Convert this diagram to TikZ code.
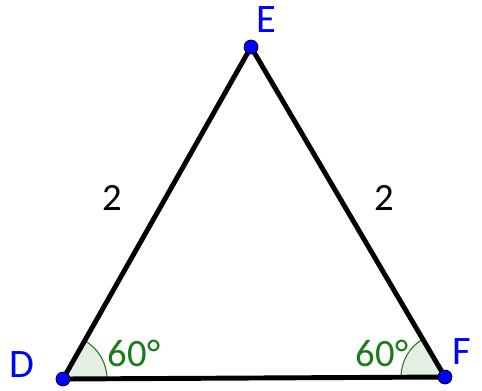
\documentclass[tikz,border=0pt]{standalone}
\usepackage{fontspec}
\setmainfont{Carlito}
\usetikzlibrary{angles,positioning}
\definecolor{ptblue}{HTML}{0000FF}
\definecolor{anggreen}{HTML}{1B7A1B}
\definecolor{angfill}{HTML}{E3EFE3}
\tikzset{
  pt style/.style={circle, draw=black, line width=0.4pt, fill=ptblue, inner sep=0pt, minimum size=0.28cm},
  lbl style/.style={font=\fontsize{23}{23}\selectfont, text=ptblue},
  len style/.style={font=\fontsize{22}{22}\selectfont, text=black},
  ang style/.style={draw=anggreen, fill=angfill, line width=0.6pt, angle radius=0.88cm},
  deg style/.style={font=\fontsize{22}{22}\selectfont, text=anggreen},
  side style/.style={line width=2.8pt, line join=round}
}
\begin{document}
\begin{tikzpicture}[x=0.02cm, y=0.02cm]
\useasboundingbox (0,0) rectangle (482,390);
\coordinate (D) at (63,11);
\coordinate (F) at (445,13);
\coordinate (E) at (251,343);
% angles
\pic[ang style] {angle = F--D--E};
\pic[ang style] {angle = E--F--D};
% sides
\draw[side style] (D) -- (E) -- (F) -- cycle;
% points
\node[pt style] (d) at (D) {};
\node[pt style] (e) at (E) {};
\node[pt style] (f) at (F) {};
% labels
\node[lbl style] (dlbl) at (22,25) {D};
\node[lbl style] (elbl) at (266,370) {E};
\node[lbl style] (flbl) at (462,38) {F};
\node[len style] (de) at (112,192) {2};
\node[len style] (ef) at (384,192) {2};
\node[deg style] (angd) at (134,37) {60°};
\node[deg style] (angf) at (382,37) {60°};
\end{tikzpicture}
\end{document}
